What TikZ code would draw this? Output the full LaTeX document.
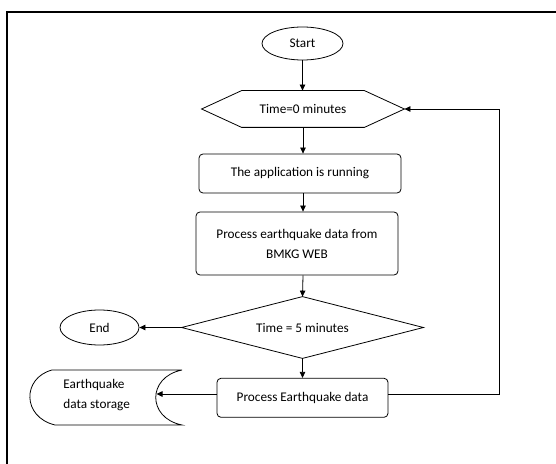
\documentclass[tikz,border=0pt]{standalone}
\usepackage{fontspec}
\setmainfont{Carlito}
\usetikzlibrary{shapes.geometric,arrows.meta}
\begin{document}
\begin{tikzpicture}[x=1bp,y=-1bp,
  font=\fontsize{13.3}{20}\selectfont,
  line width=0.8bp,
  arr/.style={-{Triangle[length=6bp,width=5.5bp]}},
  proc/.style={draw,rounded corners=4bp,inner sep=0pt,align=center},
  term/.style={draw,ellipse,inner sep=0pt},
  plain/.style={inner sep=0pt}]
\useasboundingbox (0,0) rectangle (556,464);
\draw[line width=1.5bp] (7,464) -- (7,12) -- (556,12);

\node[term,minimum width=81bp,minimum height=33bp] (start) at (302.5,43.5) {Start};
\node[plain,minimum width=202bp,minimum height=36bp] (hex) at (303,109) {Time=0 minutes};
\draw (hex.west) -- ([xshift=40bp]hex.north west) -- ([xshift=-40bp]hex.north east)
  -- (hex.east) -- ([xshift=-40bp]hex.south east) -- ([xshift=40bp]hex.south west) -- cycle;
\node[proc,minimum width=202bp,minimum height=39bp] (run) at (300,173.5) {The application is running};
\node[proc,minimum width=202bp,minimum height=63bp] (fetch) at (297,243.5) {Process earthquake data from\\BMKG WEB};
\node[plain,minimum width=241bp,minimum height=61bp] (dec) at (302.5,327.5) {Time = 5 minutes};
\draw (dec.north) -- (dec.east) -- (dec.south) -- (dec.west) -- cycle;
\node[term,minimum width=79bp,minimum height=35bp] (end) at (99.5,327.5) {End};
\node[proc,minimum width=171bp,minimum height=39bp] (proc2) at (302.5,397.8) {Process Earthquake data};

\draw (182,370) -- (52,370) .. controls (22,378) and (22,417) .. (55,425) -- (182,425)
  .. controls (147,418) and (147,377) .. (182,370);
\node[plain,anchor=west,align=left] (store) at (63,395) {Earthquake\\data storage};
\coordinate (storeR) at (156.5,397);
\coordinate (loopx) at (499,0);

\draw[arr] (start.south) -- (start.south |- hex.north);
\draw[arr] (hex.south) -- (hex.south |- run.north);
\draw[arr] (hex.south |- run.south) -- (hex.south |- fetch.north);
\draw[arr] (hex.south |- fetch.south) -- (dec.north);
\draw[arr] (dec.west) -- (end.east);
\draw[arr] (dec.south) -- (proc2.north);
\draw[arr] ([yshift=3.8bp]proc2.west) -- ([yshift=3.8bp]proc2.west -| storeR);
\draw[arr] ([yshift=3.8bp]proc2.east) -| (loopx |- hex.east) -- (hex.east);
\end{tikzpicture}
\end{document}
